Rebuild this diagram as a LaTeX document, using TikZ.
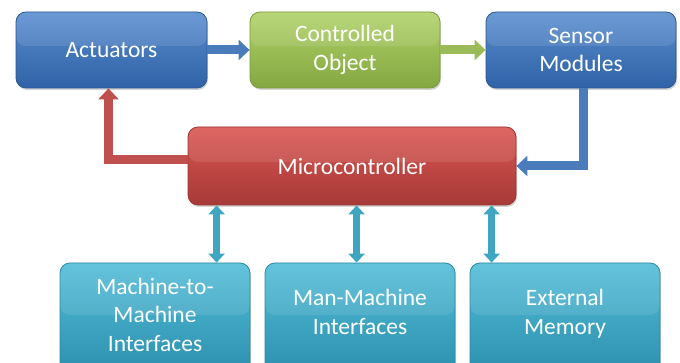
\documentclass[tikz,border=0pt]{standalone}
\usepackage{fontspec}
\setmainfont{Carlito}
\usetikzlibrary{arrows.meta,shadows,calc}
\definecolor{bA}{HTML}{5A8ED0}\definecolor{bB}{HTML}{2F62A6}\definecolor{bD}{HTML}{2B5690}
\definecolor{gA}{HTML}{B0D268}\definecolor{gB}{HTML}{84A742}\definecolor{gD}{HTML}{7A9A3C}
\definecolor{rA}{HTML}{DA5551}\definecolor{rB}{HTML}{A63A37}\definecolor{rD}{HTML}{9A3533}
\definecolor{tA}{HTML}{52BCD8}\definecolor{tB}{HTML}{2C90AD}\definecolor{tD}{HTML}{2A8AA5}
\definecolor{arB}{HTML}{4A7CBB}\definecolor{arG}{HTML}{9BBB59}\definecolor{arR}{HTML}{C0504D}\definecolor{arT}{HTML}{3FA6C2}
\tikzset{
  box/.style={rounded corners=10pt, text=white, align=center, font=\fontsize{23.5}{28.5}\selectfont,
    drop shadow={opacity=0.35, shadow xshift=1pt, shadow yshift=-2pt}, line width=0.8pt,
    path picture={\fill[white,opacity=0.10] (path picture bounding box.north west) rectangle ([yshift=4pt]path picture bounding box.east);}},
  bluebox/.style={box, top color=bA, bottom color=bB, draw=bD},
  greenbox/.style={box, top color=gA, bottom color=gB, draw=gD},
  redbox/.style={box, top color=rA, bottom color=rB, draw=rD},
  tealbox/.style={box, top color=tA, bottom color=tB, draw=tD},
  blockarrow/.style={line width=9pt, -{Triangle[length=11pt,width=20pt]}},
  dblarrow/.style={line width=6.5pt, {Triangle[length=9pt,width=16pt]}-{Triangle[length=9pt,width=16pt]}, draw=arT},
}
\begin{document}
\begin{tikzpicture}[x=1pt,y=1pt]
\useasboundingbox (0,0) rectangle (680,-363);
\clip (0,0) rectangle (680,-363);
\node[bluebox, minimum width=191pt, minimum height=76pt] (act) at (111.5,-50) {Actuators};
\node[greenbox, minimum width=190pt, minimum height=76pt] (ctl) at (345,-50) {Controlled\\Object};
\node[bluebox, minimum width=190pt, minimum height=76pt] (sen) at (581,-50) {Sensor\\Modules};
\node[redbox, minimum width=328pt, minimum height=78pt] (mic) at (352,-166) {Microcontroller};
\node[tealbox, minimum width=190pt, minimum height=112pt] (m2m) at (155,-319) {Machine-to-\\Machine\\Interfaces\\[-20pt]};
\node[tealbox, minimum width=190pt, minimum height=112pt] (mmi) at (360,-319) {Man-Machine\\Interfaces\\[-14pt]};
\node[tealbox, minimum width=190pt, minimum height=112pt] (ext) at (565,-319) {External\\Memory\\[-14pt]};
\draw[blockarrow, draw=arB] (act.east) -- (ctl.west);
\draw[blockarrow, draw=arG] (ctl.east) -- (sen.west);
\draw[blockarrow, draw=arB] ([xshift=2pt]sen.south) |- (mic.east);
\draw[blockarrow, draw=arR] ([yshift=6pt]mic.west) -| ([xshift=-3pt]act.south);
\coordinate (d1) at ($(mic.south west)+(29,0)$);
\coordinate (d2) at ($(mic.south west)+(169,0)$);
\coordinate (d3) at ($(mic.south west)+(304,0)$);
\draw[dblarrow] (d1) -- (d1 |- m2m.north);
\draw[dblarrow] (d2) -- (d2 |- mmi.north);
\draw[dblarrow] (d3) -- (d3 |- ext.north);
\end{tikzpicture}
\end{document}
